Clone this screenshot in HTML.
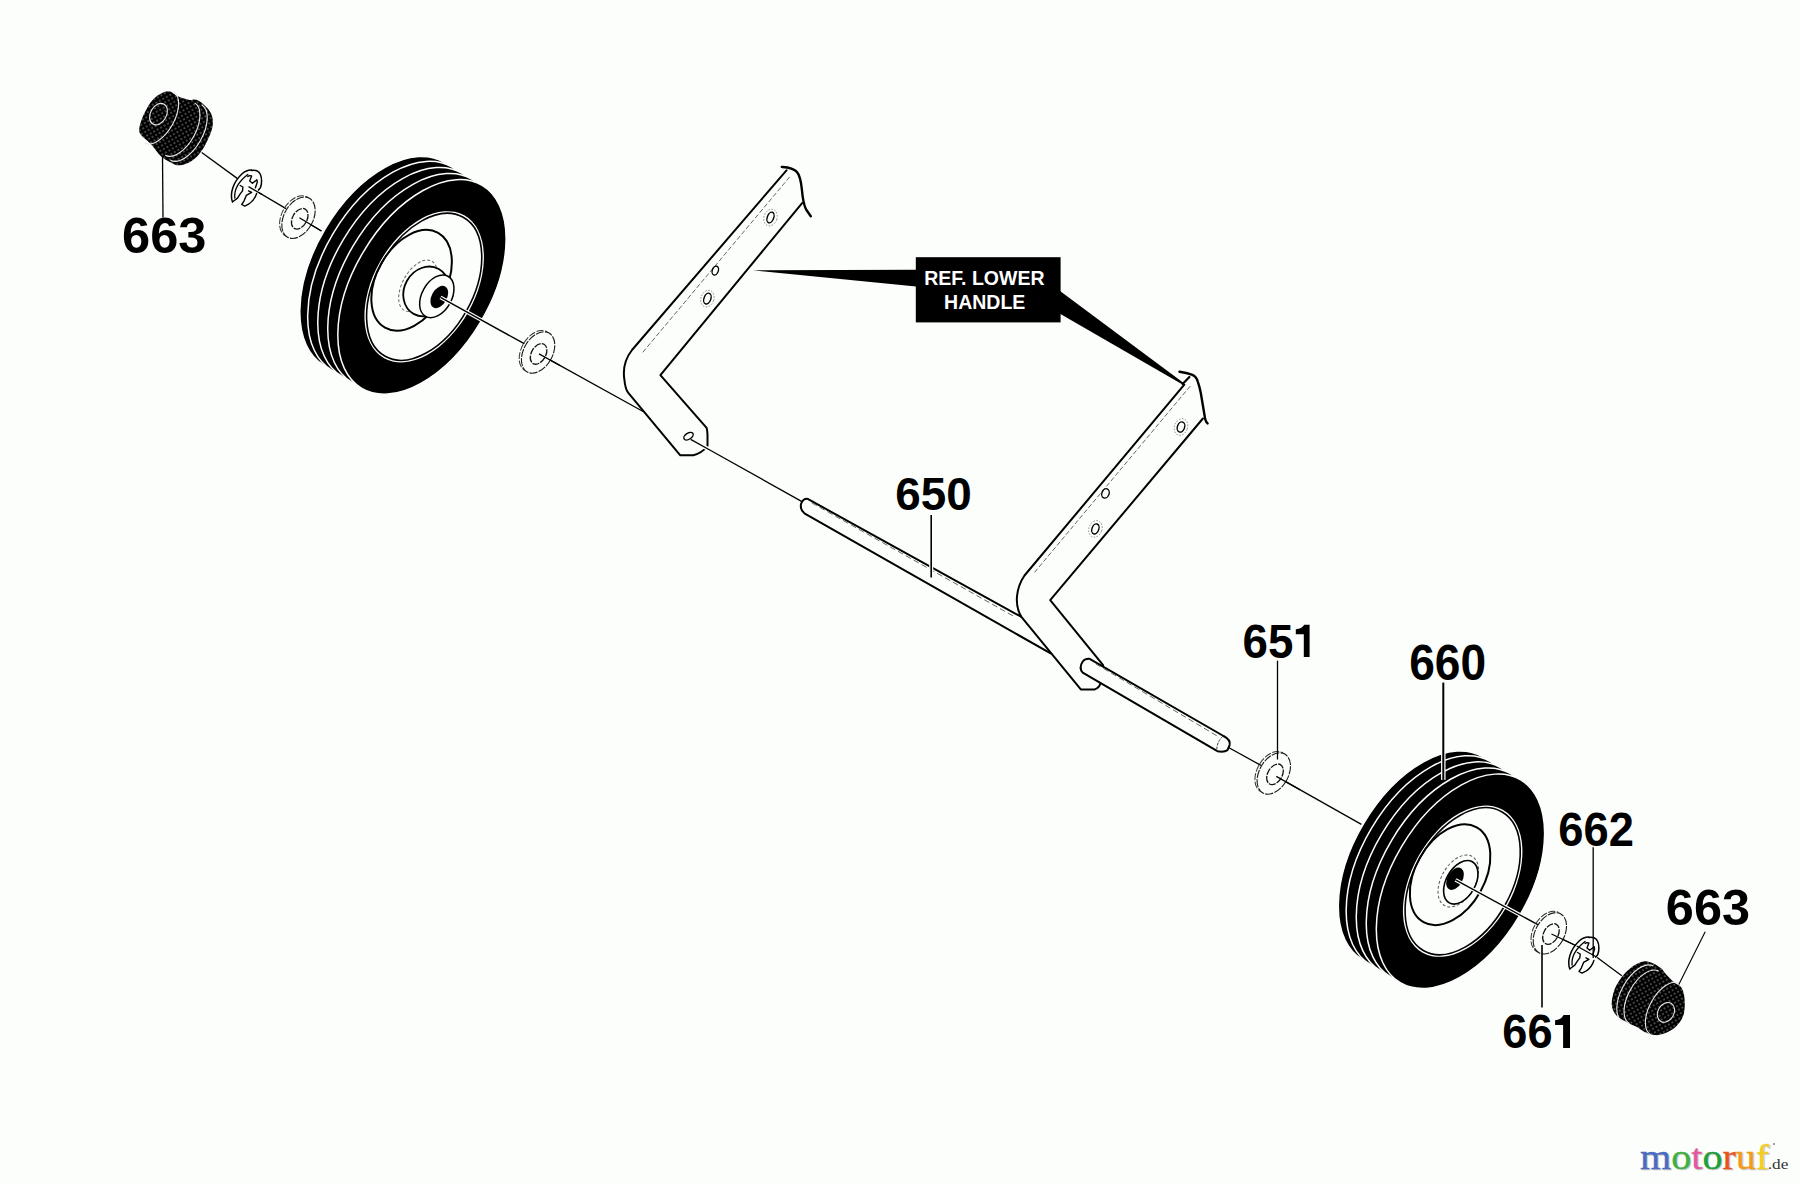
<!DOCTYPE html>
<html><head><meta charset="utf-8"><style>
html,body{margin:0;padding:0;background:#fcfefc;}
svg{display:block;}
</style></head><body>
<svg width="1800" height="1184" viewBox="0 0 1800 1184">
<rect x="0" y="0" width="1800" height="1184" fill="#fcfefc"/>
<line x1="201.7" y1="152.5" x2="237.2" y2="178.4" stroke="#000" stroke-width="1.3"/>
<line x1="248.5" y1="186.6" x2="286" y2="208.6" stroke="#000" stroke-width="1.3"/>
<line x1="299.4" y1="217.8" x2="321.4" y2="231" stroke="#000" stroke-width="1.3"/>
<line x1="439.3" y1="296.7" x2="524.2" y2="343.7" stroke="#000" stroke-width="1.3"/>
<line x1="539" y1="353.9" x2="643.1" y2="411.5" stroke="#000" stroke-width="1.3"/>
<line x1="708" y1="449" x2="802" y2="501.6" stroke="#000" stroke-width="1.3"/>
<line x1="1224" y1="745" x2="1261" y2="765.4" stroke="#000" stroke-width="1.3"/>
<line x1="1276.3" y1="776.4" x2="1361.4" y2="824.4" stroke="#000" stroke-width="1.3"/>
<line x1="1454.7" y1="879.3" x2="1538.3" y2="924.9" stroke="#000" stroke-width="1.3"/>
<line x1="1551.5" y1="934" x2="1576.7" y2="946" stroke="#000" stroke-width="1.3"/>
<line x1="1596.5" y1="957" x2="1621.8" y2="975.7" stroke="#000" stroke-width="1.3"/>
<g transform="translate(0.00 0.00)">
<ellipse cx="383.96" cy="263.79" rx="68.34" ry="117.99" transform="rotate(30.7 383.96 263.79)" fill="#000" stroke="#fcfefc" stroke-width="1.5"/>
<ellipse cx="391.82" cy="268.57" rx="68.34" ry="117.99" transform="rotate(30.7 391.82 268.57)" fill="#000" stroke="#fcfefc" stroke-width="1.5"/>
<ellipse cx="401.92" cy="274.71" rx="68.34" ry="117.99" transform="rotate(30.7 401.92 274.71)" fill="#000" stroke="#fcfefc" stroke-width="1.5"/>
<ellipse cx="411.90" cy="280.77" rx="68.34" ry="117.99" transform="rotate(30.7 411.90 280.77)" fill="#000" stroke="#fcfefc" stroke-width="1.5"/>
<ellipse cx="421.97" cy="286.90" rx="68.34" ry="117.99" transform="rotate(30.7 421.97 286.90)" fill="#000" stroke="#fcfefc" stroke-width="1.5"/>
<ellipse cx="424.18" cy="286.80" rx="50.80" ry="81.94" transform="rotate(29.3 424.18 286.80)" fill="#fcfefc" stroke="none"/>
<ellipse cx="424.18" cy="286.80" rx="48.60" ry="79.70" transform="rotate(29.3 424.18 286.80)" fill="#fcfefc" stroke="#000" stroke-width="1.6"/>
<ellipse cx="411.60" cy="280.30" rx="34.65" ry="54.31" transform="rotate(29.3 411.60 280.30)" fill="none" stroke="#000" stroke-width="2"/>
<ellipse cx="418.00" cy="285.80" rx="15.50" ry="28.20" transform="rotate(29.3 418.00 285.80)" fill="none" stroke="#666" stroke-width="1" stroke-dasharray="3 2"/>
<ellipse cx="426.17" cy="291.45" rx="21.98" ry="25.69" transform="rotate(29.3 426.17 291.45)" fill="#fcfefc" stroke="#000" stroke-width="1.8"/>
<ellipse cx="436.80" cy="296.30" rx="14.90" ry="23.00" transform="rotate(29.3 436.80 296.30)" fill="#fcfefc" stroke="#000" stroke-width="1.5"/>
<ellipse cx="439.30" cy="297.00" rx="7.60" ry="12.00" transform="rotate(29.3 439.30 297.00)" fill="#000"/>
</g>
<g transform="translate(1038.50 594.40)">
<ellipse cx="383.96" cy="263.79" rx="68.34" ry="117.99" transform="rotate(30.7 383.96 263.79)" fill="#000" stroke="#fcfefc" stroke-width="1.5"/>
<ellipse cx="391.82" cy="268.57" rx="68.34" ry="117.99" transform="rotate(30.7 391.82 268.57)" fill="#000" stroke="#fcfefc" stroke-width="1.5"/>
<ellipse cx="401.92" cy="274.71" rx="68.34" ry="117.99" transform="rotate(30.7 401.92 274.71)" fill="#000" stroke="#fcfefc" stroke-width="1.5"/>
<ellipse cx="411.90" cy="280.77" rx="68.34" ry="117.99" transform="rotate(30.7 411.90 280.77)" fill="#000" stroke="#fcfefc" stroke-width="1.5"/>
<ellipse cx="421.97" cy="286.90" rx="68.34" ry="117.99" transform="rotate(30.7 421.97 286.90)" fill="#000" stroke="#fcfefc" stroke-width="1.5"/>
<ellipse cx="424.18" cy="286.80" rx="50.80" ry="81.94" transform="rotate(29.3 424.18 286.80)" fill="#fcfefc" stroke="none"/>
<ellipse cx="424.18" cy="286.80" rx="48.60" ry="79.70" transform="rotate(29.3 424.18 286.80)" fill="#fcfefc" stroke="#000" stroke-width="1.6"/>
<ellipse cx="411.60" cy="280.30" rx="34.65" ry="54.31" transform="rotate(29.3 411.60 280.30)" fill="none" stroke="#000" stroke-width="2"/>
<ellipse cx="419.80" cy="286.60" rx="17.05" ry="28.20" transform="rotate(29.3 419.80 286.60)" fill="none" stroke="#555" stroke-width="1" stroke-dasharray="3 2"/>
<ellipse cx="422.30" cy="287.90" rx="14.60" ry="23.60" transform="rotate(29.3 422.30 287.90)" fill="none" stroke="#000" stroke-width="1.6"/>
<ellipse cx="416.50" cy="284.30" rx="7.56" ry="12.06" transform="rotate(29.3 416.50 284.30)" fill="#000"/>
</g>
<line x1="440.5" y1="297.4" x2="524.2" y2="343.7" stroke="#fcfefc" stroke-width="3.8"/>
<line x1="440.5" y1="297.4" x2="524.2" y2="343.7" stroke="#000" stroke-width="1.4"/>
<line x1="1455.5" y1="879.8" x2="1538.3" y2="924.9" stroke="#fcfefc" stroke-width="3.8"/>
<line x1="1455.5" y1="879.8" x2="1538.3" y2="924.9" stroke="#000" stroke-width="1.4"/>
<path d="M786.5,170.3 L632,350 C625,359 623,370 624.3,379 C625,386 626,390 628.1,392.7 L680.3,455.3 L693.4,455.3 Q702,453 707.5,446 L707.5,435 Q707.3,430 706.6,427.8 L660.4,375.1 L802.1,203.1 Z" fill="#fcfefc" stroke="none"/>
<path d="M786.5,170.3 L632,350 C625,359 623,370 624.3,379 C625,386 626,390 628.1,392.7 L680.3,455.3 L693.4,455.3 Q702,453 707.5,446 L707.5,435 Q707.3,430 706.6,427.8 L660.4,375.1 L802.1,203.1" fill="none" stroke="#000" stroke-width="2.0" stroke-linejoin="round" stroke-linecap="round" />
<path d="M781.8,166.9 C786,167.2 793,167.5 796.6,171.6 C799.5,174.5 801,180 802,190.5 C802.5,197 803,203 806.1,209.5 L810.8,216.2" fill="none" stroke="#000" stroke-width="2.4" stroke-linejoin="round" stroke-linecap="round" />
<path d="M643,352 L790.6,175.8" fill="none" stroke="#666" stroke-width="1" stroke-linejoin="round" stroke-linecap="round" stroke-dasharray="4 3"/>
<ellipse cx="770.50" cy="217.50" rx="3.20" ry="5.60" transform="rotate(20 770.50 217.50)" fill="none" stroke="#000" stroke-width="1.4"/>
<ellipse cx="715.30" cy="270.60" rx="3.00" ry="4.60" transform="rotate(20 715.30 270.60)" fill="none" stroke="#000" stroke-width="1.4"/>
<ellipse cx="707.40" cy="298.60" rx="3.40" ry="5.60" transform="rotate(20 707.40 298.60)" fill="none" stroke="#000" stroke-width="1.4"/>
<ellipse cx="688.50" cy="436.20" rx="5.20" ry="3.00" transform="rotate(-32 688.50 436.20)" fill="none" stroke="#000" stroke-width="1.4"/>
<ellipse cx="770.50" cy="217.50" rx="6.50" ry="8.50" transform="rotate(20 770.50 217.50)" fill="none" stroke="#888" stroke-width="0.9" stroke-dasharray="1.5 1.5"/>
<ellipse cx="707.40" cy="298.60" rx="6.50" ry="8.50" transform="rotate(20 707.40 298.60)" fill="none" stroke="#888" stroke-width="0.9" stroke-dasharray="1.5 1.5"/>
<line x1="702" y1="445.6" x2="712" y2="451.2" stroke="#fcfefc" stroke-width="4"/>
<line x1="690.7" y1="439.4" x2="712" y2="451.2" stroke="#000" stroke-width="1.3"/>
<path d="M807.7,498.9 L1021.4,616.9 L1050.2,653.2 L804.4,513.3 Q799,509 801.2,504.5 Q803,499 807.7,498.9 Z" fill="#fcfefc"/>
<path d="M1021.4,616.9 L807.7,498.9 Q803,498.5 801,504 Q800,510 804.4,513.3 L1050.2,653.2" fill="none" stroke="#000" stroke-width="2.0" stroke-linejoin="round" stroke-linecap="round" />
<path d="M812,503 L1015,617" fill="none" stroke="#666" stroke-width="1" stroke-linejoin="round" stroke-linecap="round" stroke-dasharray="5 4"/>
<path d="M1184.3,384.7 L1024.5,575.5 C1016,588 1014,605 1021.4,616.9 L1080.8,689.4 L1094.7,689.4 Q1099,688 1100.3,683.8 L1103.1,665.2 L1050.2,600.2 L1202.9,418.5 Z" fill="#fcfefc"/>
<path d="M1184.3,384.7 L1024.5,575.5 C1016,588 1014,605 1021.4,616.9 L1080.8,689.4 L1094.7,689.4 Q1099,688 1100.3,683.8" fill="none" stroke="#000" stroke-width="2.0" stroke-linejoin="round" stroke-linecap="round" />
<path d="M1202.9,418.5 L1050.2,600.2 L1103.1,665.2" fill="none" stroke="#000" stroke-width="2.0" stroke-linejoin="round" stroke-linecap="round" />
<path d="M1179.5,371.7 C1184,372.5 1189,373.5 1192.4,374.8 C1195,376 1197,378.5 1197.8,381.6 C1199,385 1200,389 1200.8,393 L1204.6,415.8 C1205,419 1205.5,421.5 1207.6,423.4" fill="none" stroke="#000" stroke-width="2.4" stroke-linejoin="round" stroke-linecap="round" />
<path d="M1182.6,383.9 L1189.4,377" fill="none" stroke="#000" stroke-width="2.2" stroke-linejoin="round" stroke-linecap="round" />
<path d="M1190,386.4 L1033.6,573.5" fill="none" stroke="#666" stroke-width="1" stroke-linejoin="round" stroke-linecap="round" stroke-dasharray="4 3"/>
<ellipse cx="1181.00" cy="427.00" rx="3.60" ry="5.20" transform="rotate(20 1181.00 427.00)" fill="none" stroke="#000" stroke-width="1.4"/>
<ellipse cx="1105.50" cy="493.40" rx="3.60" ry="4.80" transform="rotate(20 1105.50 493.40)" fill="none" stroke="#000" stroke-width="1.4"/>
<ellipse cx="1095.40" cy="528.90" rx="3.40" ry="5.20" transform="rotate(20 1095.40 528.90)" fill="none" stroke="#000" stroke-width="1.4"/>
<ellipse cx="1181.00" cy="427.00" rx="6.50" ry="8.50" transform="rotate(20 1181.00 427.00)" fill="none" stroke="#888" stroke-width="0.9" stroke-dasharray="1.5 1.5"/>
<ellipse cx="1095.40" cy="528.90" rx="6.50" ry="8.50" transform="rotate(20 1095.40 528.90)" fill="none" stroke="#888" stroke-width="0.9" stroke-dasharray="1.5 1.5"/>
<path d="M1089.2,658.7 L1223.5,736 Q1231,740 1229.6,745.1 L1227.5,750.2 Q1224,752.5 1217.4,751.2 L1082.7,672.7 Q1078.5,668 1082.7,661.5 Q1085,658.5 1089.2,658.7 Z" fill="#fcfefc" stroke="#000" stroke-width="2.0" stroke-linejoin="round"/>
<path d="M1096,664 L1216.4,735.5" fill="none" stroke="#666" stroke-width="1" stroke-linejoin="round" stroke-linecap="round" stroke-dasharray="5 4"/>
<path d="M1222.5,736.5 Q1217,742 1216.9,748.7" fill="none" stroke="#333" stroke-width="1" stroke-linejoin="round" stroke-linecap="round" stroke-dasharray="2 2"/>
<ellipse cx="296.30" cy="216.45" rx="14.50" ry="22.30" transform="rotate(29.3 296.30 216.45)" fill="none" stroke="#333" stroke-width="1" stroke-dasharray="7 1.5"/>
<ellipse cx="298.50" cy="217.75" rx="14.50" ry="22.30" transform="rotate(29.3 298.50 217.75)" fill="#fcfefc" stroke="#1a1a1a" stroke-width="1.1" stroke-dasharray="8 1.2"/>
<ellipse cx="299.75" cy="218.75" rx="7.20" ry="11.10" transform="rotate(29.3 299.75 218.75)" fill="none" stroke="#111" stroke-width="1.3" stroke-dasharray="7 1.2"/>
<ellipse cx="535.90" cy="351.20" rx="14.50" ry="22.30" transform="rotate(29.3 535.90 351.20)" fill="none" stroke="#333" stroke-width="1" stroke-dasharray="7 1.5"/>
<ellipse cx="538.10" cy="352.50" rx="14.50" ry="22.30" transform="rotate(29.3 538.10 352.50)" fill="#fcfefc" stroke="#1a1a1a" stroke-width="1.1" stroke-dasharray="8 1.2"/>
<ellipse cx="538.60" cy="353.90" rx="7.20" ry="11.10" transform="rotate(29.3 538.60 353.90)" fill="none" stroke="#111" stroke-width="1.3" stroke-dasharray="7 1.2"/>
<ellipse cx="1271.60" cy="772.20" rx="14.50" ry="22.30" transform="rotate(29.3 1271.60 772.20)" fill="none" stroke="#333" stroke-width="1" stroke-dasharray="7 1.5"/>
<ellipse cx="1273.80" cy="773.50" rx="14.50" ry="22.30" transform="rotate(29.3 1273.80 773.50)" fill="#fcfefc" stroke="#1a1a1a" stroke-width="1.1" stroke-dasharray="8 1.2"/>
<ellipse cx="1275.00" cy="774.30" rx="7.20" ry="11.10" transform="rotate(29.3 1275.00 774.30)" fill="none" stroke="#111" stroke-width="1.3" stroke-dasharray="7 1.2"/>
<ellipse cx="1547.65" cy="932.05" rx="14.50" ry="22.30" transform="rotate(29.3 1547.65 932.05)" fill="none" stroke="#333" stroke-width="1" stroke-dasharray="7 1.5"/>
<ellipse cx="1549.85" cy="933.35" rx="14.50" ry="22.30" transform="rotate(29.3 1549.85 933.35)" fill="#fcfefc" stroke="#1a1a1a" stroke-width="1.1" stroke-dasharray="8 1.2"/>
<ellipse cx="1550.95" cy="934.00" rx="7.20" ry="11.10" transform="rotate(29.3 1550.95 934.00)" fill="none" stroke="#111" stroke-width="1.3" stroke-dasharray="7 1.2"/>
<line x1="299.4" y1="217.8" x2="321.4" y2="231" stroke="#000" stroke-width="1.3"/>
<line x1="539" y1="353.9" x2="560" y2="365.5" stroke="#000" stroke-width="1.3"/>
<line x1="1276.3" y1="776.4" x2="1300" y2="789.8" stroke="#000" stroke-width="1.3"/>
<line x1="1551.5" y1="934" x2="1576.7" y2="946" stroke="#000" stroke-width="1.3"/>
<g transform="translate(0 0)">
<path d="M231.1,199.2 C230,190 236,178 247.8,170.3 C253,168.5 259,171 261.5,182.1 C262,190 256,200 248.6,204.2 C244,207 236,206 231.1,199.2 Z" fill="#fcfefc"/>
<path d="M232.5,202 C229.5,194 233,182 242.1,173.7 C245,171 249,169.8 251.6,169.9" fill="none" stroke="#000" stroke-width="1.5" stroke-linejoin="round" stroke-linecap="round" />
<path d="M234.8,198 C234,190 238,182 247.8,174.5" fill="none" stroke="#000" stroke-width="1.3" stroke-linejoin="round" stroke-linecap="round" />
<path d="M251.6,170.4 C255,169.5 259,171 260.4,174.5 C262,178 262,184 260.4,187.8 L258.5,190.1" fill="none" stroke="#000" stroke-width="1.5" stroke-linejoin="round" stroke-linecap="round" />
<path d="M247.8,176.4 L249.7,175.6 L251.6,176 L249.7,181 L252.4,183.3 L256.9,179.8 L257.3,182.1 L255.4,187.8" fill="none" stroke="#000" stroke-width="1.4" stroke-linejoin="round" stroke-linecap="round" />
<path d="M240.2,185.5 L242.9,187 L242.5,190.9 L240.2,193.9 L237.5,198.1 L233,201.5" fill="none" stroke="#000" stroke-width="1.4" stroke-linejoin="round" stroke-linecap="round" />
<path d="M248.6,190.9 L251.6,192.4 L246.3,195.4 L244,201.1 L241.7,204.5 L244.8,206.1 L248.6,204.2 C252,202 255,199 256.6,193.5" fill="none" stroke="#000" stroke-width="1.4" stroke-linejoin="round" stroke-linecap="round" />
</g>
<g transform="translate(1337.3 767)">
<path d="M231.1,199.2 C230,190 236,178 247.8,170.3 C253,168.5 259,171 261.5,182.1 C262,190 256,200 248.6,204.2 C244,207 236,206 231.1,199.2 Z" fill="#fcfefc"/>
<path d="M232.5,202 C229.5,194 233,182 242.1,173.7 C245,171 249,169.8 251.6,169.9" fill="none" stroke="#000" stroke-width="1.5" stroke-linejoin="round" stroke-linecap="round" />
<path d="M234.8,198 C234,190 238,182 247.8,174.5" fill="none" stroke="#000" stroke-width="1.3" stroke-linejoin="round" stroke-linecap="round" />
<path d="M251.6,170.4 C255,169.5 259,171 260.4,174.5 C262,178 262,184 260.4,187.8 L258.5,190.1" fill="none" stroke="#000" stroke-width="1.5" stroke-linejoin="round" stroke-linecap="round" />
<path d="M247.8,176.4 L249.7,175.6 L251.6,176 L249.7,181 L252.4,183.3 L256.9,179.8 L257.3,182.1 L255.4,187.8" fill="none" stroke="#000" stroke-width="1.4" stroke-linejoin="round" stroke-linecap="round" />
<path d="M240.2,185.5 L242.9,187 L242.5,190.9 L240.2,193.9 L237.5,198.1 L233,201.5" fill="none" stroke="#000" stroke-width="1.4" stroke-linejoin="round" stroke-linecap="round" />
<path d="M248.6,190.9 L251.6,192.4 L246.3,195.4 L244,201.1 L241.7,204.5 L244.8,206.1 L248.6,204.2 C252,202 255,199 256.6,193.5" fill="none" stroke="#000" stroke-width="1.4" stroke-linejoin="round" stroke-linecap="round" />
</g>
<line x1="248.5" y1="186.6" x2="262" y2="194.5" stroke="#000" stroke-width="1.3"/>
<line x1="1576.7" y1="946" x2="1596.5" y2="957" stroke="#000" stroke-width="1.3"/>
<defs><pattern id="dith" width="4" height="4" patternUnits="userSpaceOnUse" patternTransform="rotate(-29.3)"><rect width="4" height="4" fill="#000"/><rect x="1.5" y="1.5" width="1.1" height="1.1" fill="#d8dad8"/></pattern></defs>
<path d="M139.4,127.6 C140.0,124.0 142.1,117.8 144.5,113.0 C146.9,108.2 150.1,102.1 154.0,98.5 C157.9,94.9 163.8,91.7 167.8,91.3 C171.8,90.9 174.3,94.8 177.9,96.3 C181.5,97.8 186.6,99.5 189.5,100.0 C192.4,100.5 193.2,99.0 195.4,99.6 C197.6,100.2 200.2,101.6 202.6,103.6 C205.0,105.6 208.2,108.8 209.9,111.6 C211.6,114.4 212.6,117.0 212.8,120.3 C213.0,123.6 213.0,126.3 211.3,131.2 C209.6,136.0 205.9,144.4 202.6,149.4 C199.3,154.4 195.6,158.3 191.7,161.0 C187.8,163.7 182.9,165.1 179.4,165.3 C175.9,165.5 173.7,163.9 170.7,162.4 C167.7,160.9 164.6,159.8 161.2,156.6 C157.8,153.4 153.7,147.1 150.3,143.5 C146.9,139.9 142.7,137.5 140.9,134.8 C139.1,132.2 138.8,131.2 139.4,127.6 Z" fill="url(#dith)"/>
<g transform="translate(159 117.3) rotate(29.3)">
<path d="M0,-29.4 A15.3,29.4 0 0 1 0,29.4" fill="none" stroke="#e8eae8" stroke-width="1.1"/>
<path d="M24,-29.988 A15.606000000000002,29.988 0 0 1 24,29.988" fill="none" stroke="#e8eae8" stroke-width="1.1"/>
<path d="M31,-31.752 A16.524,31.752 0 0 1 31,31.752" fill="none" stroke="#e8eae8" stroke-width="1.1"/>
<ellipse cx="-2" cy="-2.5" rx="8" ry="11.4" fill="none" stroke="#e8eae8" stroke-width="1.1"/>
</g>
<path d="M1611.7,1004.5 C1611.5,1000.1 1613.0,993.5 1614.9,988.6 C1616.9,983.7 1620.2,978.8 1623.4,974.9 C1626.6,971.0 1630.4,967.7 1633.9,965.4 C1637.4,963.1 1641.3,961.6 1644.5,961.2 C1647.7,960.9 1650.1,962.1 1652.9,963.3 C1655.7,964.5 1659.3,966.9 1661.4,968.6 C1663.5,970.4 1663.5,971.5 1665.6,973.8 C1667.7,976.1 1671.4,980.0 1674.0,982.3 C1676.6,984.6 1679.6,984.8 1681.4,987.6 C1683.2,990.4 1684.2,994.6 1684.6,999.2 C1684.9,1003.8 1684.9,1010.4 1683.5,1015.0 C1682.1,1019.6 1679.1,1023.6 1676.1,1026.6 C1673.1,1029.6 1669.1,1031.6 1665.6,1033.0 C1662.1,1034.4 1658.5,1035.3 1655.0,1035.1 C1651.5,1034.9 1647.7,1033.3 1644.5,1031.9 C1641.3,1030.5 1639.2,1028.3 1636.0,1026.6 C1632.8,1024.8 1628.8,1023.3 1625.5,1021.4 C1622.2,1019.5 1618.3,1017.8 1616.0,1015.0 C1613.7,1012.2 1611.9,1008.9 1611.7,1004.5 Z" fill="url(#dith)"/>
<g transform="translate(1665 1009) rotate(29.3)">
<path d="M0,-29.4 A15.3,29.4 0 0 0 0,29.4" fill="none" stroke="#e8eae8" stroke-width="1.1"/>
<path d="M-24,-29.988 A15.606000000000002,29.988 0 0 0 -24,29.988" fill="none" stroke="#e8eae8" stroke-width="1.1"/>
<path d="M-31,-31.752 A16.524,31.752 0 0 0 -31,31.752" fill="none" stroke="#e8eae8" stroke-width="1.1"/>
<ellipse cx="2.5" cy="2.5" rx="8" ry="10.4" fill="none" stroke="#e8eae8" stroke-width="1.1"/>
</g>
<text transform="translate(122.10 252.99) scale(0.5055 0.5053)" font-family="Liberation Sans" font-weight="bold" font-size="100" fill="#000">663</text>
<text transform="translate(895.28 509.54) scale(0.4584 0.4629)" font-family="Liberation Sans" font-weight="bold" font-size="100" fill="#000">650</text>
<text transform="translate(1409.17 680.21) scale(0.4609 0.4905)" font-family="Liberation Sans" font-weight="bold" font-size="100" fill="#000">660</text>
<text transform="translate(1558.30 846.02) scale(0.4534 0.4777)" font-family="Liberation Sans" font-weight="bold" font-size="100" fill="#000">662</text>
<text transform="translate(1665.86 924.99) scale(0.5039 0.5053)" font-family="Liberation Sans" font-weight="bold" font-size="100" fill="#000">663</text>
<text transform="translate(1242.49 657.52) scale(0.4566 0.4777)" font-family="Liberation Sans" font-weight="bold" font-size="100" fill="#000">65</text>
<text transform="translate(1502.31 1048.22) scale(0.4518 0.4777)" font-family="Liberation Sans" font-weight="bold" font-size="100" fill="#000">66</text>
<path d="M1303.8,656.9 L1303.8,634.2 L1295.8,634.2 L1295.8,629.3 Q1301.8,628.8 1304.3,624.7 L1309.6,624.7 L1309.6,656.9 Z" fill="#000"/>
<path d="M1563.1,1048 L1563.1,1024.9 L1555.1,1024.9 L1555.1,1020.2 Q1561.1,1019.7 1563.6,1015.1 L1570,1015.1 L1570,1048 Z" fill="#000"/>
<line x1="1443.3" y1="750" x2="1443.3" y2="779.8" stroke="#fcfefc" stroke-width="4.5"/>
<line x1="931.2" y1="561" x2="931.2" y2="573" stroke="#fcfefc" stroke-width="4"/>
<line x1="162.5" y1="156" x2="163" y2="217.5" stroke="#000" stroke-width="1.3"/>
<line x1="931.2" y1="515" x2="931.2" y2="577.5" stroke="#000" stroke-width="1.6"/>
<line x1="1277.5" y1="660.7" x2="1277.5" y2="759.5" stroke="#000" stroke-width="1.3"/>
<line x1="1443.3" y1="682.6" x2="1443.3" y2="779.8" stroke="#000" stroke-width="2.0"/>
<line x1="1593.2" y1="847.2" x2="1593.2" y2="958.1" stroke="#000" stroke-width="1.3"/>
<line x1="1542" y1="945" x2="1542" y2="1007.5" stroke="#000" stroke-width="1.6"/>
<line x1="1705.2" y1="931.8" x2="1678.8" y2="984.5" stroke="#000" stroke-width="1.1"/>
<path d="M753,270.3 L916,269.8 L916,286.5 Z" fill="#000"/>
<path d="M1060,291 L1184,383.3 L1183.4,385 L1060,313.8 Z" fill="#000"/>
<rect x="915.8" y="257.2" width="144.8" height="65.2" fill="#000"/>
<text x="984.4" y="285" text-anchor="middle" font-family="Liberation Sans" font-weight="bold" font-size="19.5" fill="#fff">REF. LOWER</text>
<text x="984.7" y="308.9" text-anchor="middle" font-family="Liberation Sans" font-weight="bold" font-size="19.5" fill="#fff">HANDLE</text>
<text transform="translate(1641 1170) scale(0.99 0.86)" x="0" y="0" font-family="Liberation Serif" font-size="40.5" fill="#c8c8c8" stroke="#c8c8c8" stroke-width="0.5">motoruf</text>
<text transform="translate(1640 1169) scale(0.99 0.86)" x="0" y="0" font-family="Liberation Serif" font-size="40.5" stroke-width="0.35"><tspan fill="#4a6bbf" stroke="#4a6bbf">m</tspan><tspan fill="#3cb043" stroke="#3cb043">o</tspan><tspan fill="#e2589e" stroke="#e2589e">t</tspan><tspan fill="#1f9e3a" stroke="#1f9e3a">o</tspan><tspan fill="#e8521c" stroke="#e8521c">r</tspan><tspan fill="#f29a1a" stroke="#f29a1a">u</tspan><tspan fill="#f2cf1c" stroke="#f2cf1c">f</tspan><tspan fill="#333" stroke="none" font-size="17.5" dx="-1.5">.de</tspan></text>
<circle cx="1774" cy="1144" r="0.9" fill="#777"/>
</svg>
</body></html>
